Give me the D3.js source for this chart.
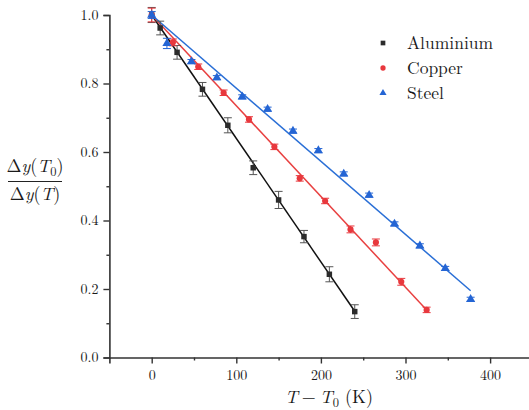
<!DOCTYPE html>
<html>
<head>
<meta charset="utf-8">
<script src="https://cdn.jsdelivr.net/npm/d3@7"></script>
<style>
  body { margin: 0; background: #fff; }
</style>
</head>
<body>
<svg id="chart"></svg>
<script>
// 데이터
const alX = [0, 10, 30, 60, 90, 120, 150, 180, 210, 240];
const alY = [1.0, 0.962, 0.891, 0.783, 0.678, 0.554, 0.46, 0.353, 0.243, 0.134];
const alErr = [0.022, 0.02, 0.02, 0.02, 0.022, 0.02, 0.025, 0.018, 0.022, 0.02];

const cuX = [0, 25, 55, 85, 115, 145, 175, 205, 235, 265, 295, 325];
const cuY = [1.0, 0.92, 0.849, 0.773, 0.695, 0.615, 0.523, 0.457, 0.374, 0.336, 0.221, 0.139];
const cuErr = [0.02, 0.01, 0.008, 0.008, 0.008, 0.008, 0.008, 0.008, 0.01, 0.01, 0.01, 0.008];

const stX = [0, 18, 47, 77, 107, 137, 167, 197, 227, 257, 287, 317, 347, 377];
const stY = [1.0, 0.917, 0.864, 0.817, 0.761, 0.725, 0.661, 0.604, 0.536, 0.474, 0.39, 0.326, 0.26, 0.17];
const stErr = [0.01, 0.015, 0.006, 0.006, 0.006, 0.006, 0.006, 0.006, 0.006, 0.006, 0.006, 0.006, 0.006, 0.006];

// 피팅 직선 양 끝점
const alFitX = [0, 240], alFitY = [1.0, 0.135];
const cuFitX = [0, 325], cuFitY = [1.0, 0.139];
const stFitX = [0, 377], stFitY = [1.0, 0.195];

const seriesNames = ["Aluminium", "Copper", "Steel"];
const xTicks = [0, 100, 200, 300, 400];
const yTicks = [0, 0.2, 0.4, 0.6, 0.8, 1.0];

const W = 529, H = 410;
const FONT = "\"Latin Modern Roman\", \"Liberation Serif\", serif";
const svg = d3.select("#chart").attr("width", W).attr("height", H);

// 스케일
const x = d3.scaleLinear().domain([-50, 450]).range([109.4, 532.4]);
const y = d3.scaleLinear().domain([0, 1.0]).range([357.5, 15]);

const colors = ["#2b2b2b", "#e8383d", "#2465d4"];
const lineColors = ["#111", "#e84040", "#2a6fd6"];

const series = [
  { xs: alX, ys: alY, err: alErr, fx: alFitX, fy: alFitY, shape: "square" },
  { xs: cuX, ys: cuY, err: cuErr, fx: cuFitX, fy: cuFitY, shape: "circle" },
  { xs: stX, ys: stY, err: stErr, fx: stFitX, fy: stFitY, shape: "triangle" }
];

const symbolFor = s => s === "square" ? d3.symbolSquare : (s === "circle" ? d3.symbolCircle : d3.symbolTriangle);

// 축 (왼쪽, 아래만)
svg.append("g")
  .attr("transform", `translate(0,${y(0)})`)
  .call(d3.axisBottom(x).tickValues(xTicks).tickFormat(d3.format("d")).tickSize(6).tickPadding(7));
svg.append("g")
  .attr("transform", `translate(0,${y(0)})`)
  .call(d3.axisBottom(x).tickValues([50, 150, 250, 350]).tickFormat("").tickSize(3))
  .select(".domain").remove();

svg.append("g")
  .attr("transform", `translate(${x(-50)},0)`)
  .call(d3.axisLeft(y).tickValues(yTicks).tickFormat(d3.format(".1f")).tickSize(6).tickPadding(5));
svg.append("g")
  .attr("transform", `translate(${x(-50)},0)`)
  .call(d3.axisLeft(y).tickValues([0.1, 0.3, 0.5, 0.7, 0.9]).tickFormat("").tickSize(3))
  .select(".domain").remove();

svg.selectAll(".domain").attr("stroke", "#333").attr("stroke-width", 1.6);
svg.selectAll(".tick line").attr("stroke", "#333").attr("stroke-width", 1.4);
svg.selectAll(".tick text").style("font-size", "14px");

// 피팅 직선
series.forEach((s, i) => {
  svg.append("line")
    .attr("x1", x(s.fx[0])).attr("y1", y(s.fy[0]))
    .attr("x2", x(s.fx[1])).attr("y2", y(s.fy[1]))
    .attr("stroke", lineColors[i])
    .attr("stroke-width", 1.5);
});

// 오차 막대 + 점
series.forEach((s, i) => {
  const g = svg.append("g");
  const pts = s.xs.map((v, k) => ({ x: v, y: s.ys[k], e: s.err[k] }));
  const errColor = i === 0 ? "#555" : colors[i];
  pts.forEach(p => {
    const cx = x(p.x), top = y(p.y + p.e), bot = y(p.y - p.e);
    g.append("line").attr("x1", cx).attr("x2", cx).attr("y1", top).attr("y2", bot)
      .attr("stroke", errColor).attr("stroke-width", 1);
    [top, bot].forEach(yy => {
      g.append("line").attr("x1", cx - 4).attr("x2", cx + 4).attr("y1", yy).attr("y2", yy)
        .attr("stroke", errColor).attr("stroke-width", 1);
    });
  });
  g.selectAll("path.pt")
    .data(pts)
    .enter().append("path")
    .attr("class", "pt")
    .attr("transform", d => `translate(${x(d.x)},${y(d.y)})`)
    .attr("d", d3.symbol().type(symbolFor(s.shape)).size(s.shape === "triangle" ? 36 : 30))
    .attr("fill", colors[i]);
});

// 범례
const legend = svg.selectAll(".legend")
  .data(seriesNames)
  .enter().append("g")
  .attr("class", "legend")
  .attr("transform", (d, i) => `translate(383,${43 + i * 25})`);

legend.append("path")
  .attr("d", (d, i) => d3.symbol().type(symbolFor(series[i].shape)).size(22)())
  .attr("fill", (d, i) => colors[i]);

legend.append("text")
  .attr("x", 24)
  .attr("y", 6)
  .style("font-size", "17.5px")
  .text(d => d);

// X축 제목
const xt = svg.append("text")
  .attr("x", 329).attr("y", 403)
  .attr("text-anchor", "middle")
  .style("font-size", "18px");
xt.append("tspan").style("font-style", "italic").text("T");
xt.append("tspan").attr("dx", 4).text("−");
xt.append("tspan").attr("dx", 4).style("font-style", "italic").text("T");
xt.append("tspan").attr("dy", 4).style("font-size", "12.5px").text("0");
xt.append("tspan").attr("dy", -4).text(" (K)");

// Y축 제목 (분수)
const yt = svg.append("g").attr("transform", "translate(35,0)");
const num = yt.append("text").attr("x", 0).attr("y", 172).attr("text-anchor", "middle").style("font-size", "18px");
num.append("tspan").text("Δ");
num.append("tspan").style("font-style", "italic").text("y");
num.append("tspan").text("(");
num.append("tspan").style("font-style", "italic").text("T");
num.append("tspan").attr("dy", 3.5).style("font-size", "12.5px").text("0");
num.append("tspan").attr("dy", -3.5).text(")");
yt.append("line").attr("x1", -27).attr("x2", 27).attr("y1", 181.5).attr("y2", 181.5)
  .attr("stroke", "#222").attr("stroke-width", 1);
const den = yt.append("text").attr("x", 0).attr("y", 200).attr("text-anchor", "middle").style("font-size", "18px");
den.append("tspan").text("Δ");
den.append("tspan").style("font-style", "italic").text("y");
den.append("tspan").text("(");
den.append("tspan").style("font-style", "italic").text("T");
den.append("tspan").text(")");

// 모든 글자에 세리프 글꼴 적용
svg.selectAll("text").style("font-family", FONT).attr("fill", "#1a1a1a");
</script>
</body>
</html>
